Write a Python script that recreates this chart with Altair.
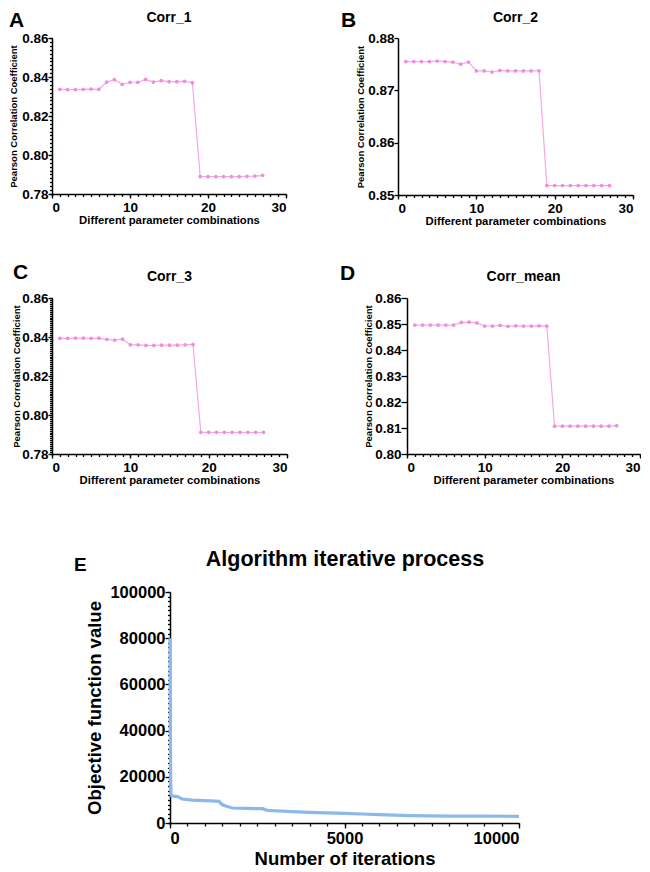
import altair as alt
import pandas as pd

# ---------------- data ----------------
combos = list(range(1, 28))
corr_1 = [0.8337, 0.8335, 0.8335, 0.8337, 0.8338, 0.8337, 0.8374, 0.8386, 0.8362, 0.8373,
          0.8373, 0.8388, 0.8374, 0.8381, 0.8376, 0.8376, 0.8378, 0.8371,
          0.7889, 0.7889, 0.7889, 0.7889, 0.7889, 0.7889, 0.7891, 0.7892, 0.7896]
corr_2 = [0.8755, 0.8755, 0.8755, 0.8755, 0.8756, 0.8755, 0.8754, 0.8750, 0.8754, 0.8737,
          0.8737, 0.8735, 0.8738, 0.8737, 0.8737, 0.8737, 0.8737, 0.8737,
          0.8518, 0.8518, 0.8518, 0.8518, 0.8518, 0.8518, 0.8518, 0.8518, 0.8518]
corr_3 = [0.8393, 0.8393, 0.8394, 0.8394, 0.8393, 0.8394, 0.8388, 0.8384, 0.8389, 0.8360,
          0.8360, 0.8357, 0.8357, 0.8358, 0.8358, 0.8358, 0.8360, 0.8362,
          0.7911, 0.7911, 0.7911, 0.7911, 0.7911, 0.7911, 0.7911, 0.7911, 0.7911]
corr_mean = [0.8496, 0.8496, 0.8496, 0.8496, 0.8496, 0.8496, 0.8506, 0.8507, 0.8504, 0.8492,
             0.8492, 0.8495, 0.8491, 0.8493, 0.8492, 0.8492, 0.8493, 0.8492,
             0.8107, 0.8107, 0.8107, 0.8107, 0.8107, 0.8107, 0.8107, 0.8107, 0.8109]

iters = [0, 10, 20, 30, 50, 210, 350, 640, 1000, 1300, 1400, 1500, 1640, 1790, 2200, 2650,
         2790, 3000, 3500, 4000, 4500, 5030, 5500, 6000, 6850, 8000, 9000, 10000]
objective = [80000, 40000, 18000, 12500, 11800, 11400, 10400, 9900, 9700, 9500, 9400, 7900,
             7100, 6500, 6300, 6200, 5500, 5300, 4900, 4600, 4400, 4200, 3900, 3600, 3200,
             3000, 2950, 2900]

FONT = "Liberation Sans"
PINK_LINE = "#F5A8E4"
PINK_PT = "#F08EDC"
BLUE = "#8DB8EE"


def frange(a, b, step):
    n = int(round((b - a) / step))
    return [round(a + i * step, 6) for i in range(n + 1)]


def txt(s, size, x, y, align="left"):
    return alt.Chart(pd.DataFrame({"t": [s]})).mark_text(
        font=FONT, fontWeight="bold", fontSize=size, align=align, baseline="alphabetic",
        color="black").encode(x=alt.value(x), y=alt.value(y), text="t:N")


def corr_panel(vals, title, letter, ydom, ystep, yminor, w, h, letter_x, letter_y,
               title_y, ytitle_pad, ytick):
    df = pd.DataFrame({"x": combos, "y": vals})
    base = alt.Chart(df)
    xscale = alt.Scale(domain=[0, 30], nice=False, zero=False)
    yscale = alt.Scale(domain=ydom, nice=False, zero=False)
    major_x = alt.Axis(values=[0, 10, 20, 30], format="d", title="Different parameter combinations",
                       orient="bottom", grid=False, tickSize=4, labelPadding=2, titlePadding=1,
                       labelFontSize=13.5, titleFontSize=11.3)
    major_y = alt.Axis(values=frange(ydom[0], ydom[1], ystep), format=".2f",
                       title="Pearson Correlation Coefficient", orient="left", grid=False,
                       tickSize=ytick, labelPadding=0, titlePadding=ytitle_pad,
                       labelFontSize=13.5, titleFontSize=9.5)
    line = base.mark_line(color=PINK_LINE, strokeWidth=1.2).encode(
        x=alt.X("x:Q", scale=xscale, axis=major_x),
        y=alt.Y("y:Q", scale=yscale, axis=major_y),
    )
    pts = base.mark_point(filled=True, color=PINK_PT, size=14, opacity=1).encode(
        x=alt.X("x:Q", scale=xscale, axis=None),
        y=alt.Y("y:Q", scale=yscale, axis=None),
    )
    minor_x = alt.Axis(values=list(range(0, 31)), labels=False, title=None, orient="bottom",
                       grid=False, tickSize=2.5, domain=False)
    if yminor:
        minor_y = alt.Axis(values=frange(ydom[0], ydom[1], yminor), labels=False, title=None,
                           orient="left", grid=False, tickSize=2.5, domain=False)
    else:
        minor_y = None
    minor = base.mark_point(opacity=0).encode(
        x=alt.X("x:Q", scale=xscale, axis=minor_x),
        y=alt.Y("y:Q", scale=yscale, axis=minor_y),
    )
    lab = txt(letter, 21, letter_x, letter_y)
    ttl = txt(title, 14, w / 2, title_y, align="center")
    return alt.layer(line, pts, minor, lab, ttl).resolve_axis(
        x="independent", y="independent"
    ).properties(width=w, height=h)


A = corr_panel(corr_1, "Corr_1", "A", [0.78, 0.86], 0.02, 0.002, 234, 156, -43, -11, -16, 3, 4)
B = corr_panel(corr_2, "Corr_2", "B", [0.85, 0.88], 0.01, None, 235, 157, -57, -11, -16, 2, 4)
C = corr_panel(corr_3, "Corr_3", "C", [0.78, 0.86], 0.02, 0.001, 235, 156, -39, -19, -17, 0, 4)
D = corr_panel(corr_mean, "Corr_mean", "D", [0.80, 0.86], 0.01, None, 233, 156, -67, -18, -17, 1, 6)

# ---------------- panel E ----------------
dfe = pd.DataFrame({"it": iters, "val": objective})
be = alt.Chart(dfe)
xs = alt.Scale(domain=[0, 10000], nice=False)
ys = alt.Scale(domain=[0, 100000], nice=False)
e_line = be.mark_line(color=BLUE, strokeWidth=3.2).encode(
    x=alt.X("it:Q", scale=xs, axis=alt.Axis(values=[0, 5000, 10000], format="d",
            title="Number of iterations", orient="bottom", grid=False, tickSize=5,
            labelPadding=2, titlePadding=3, labelFontSize=16.5, titleFontSize=18.5)),
    y=alt.Y("val:Q", scale=ys, axis=alt.Axis(values=frange(0, 100000, 20000), format="d",
            title="Objective function value", orient="left", grid=False, tickSize=5,
            labelPadding=0, titlePadding=5, labelFontSize=16.5, titleFontSize=18.5)),
)
e_minor = be.mark_point(opacity=0).encode(
    x=alt.X("it:Q", scale=xs, axis=alt.Axis(values=frange(0, 10000, 500), labels=False,
            title=None, orient="bottom", grid=False, tickSize=3, domain=False)),
    y=alt.Y("val:Q", scale=ys, axis=alt.Axis(values=frange(0, 100000, 2000), labels=False,
            title=None, orient="left", grid=False, tickSize=2.5, domain=False)),
)
E = alt.layer(
    e_line, e_minor, txt("E", 19, -96, -21),
    txt("Algorithm iterative process", 21.5, 175, -26, align="center"),
).resolve_axis(x="independent", y="independent").properties(width=349, height=231)

spacer = alt.Chart(pd.DataFrame({"a": [0]})).mark_point(opacity=0, size=0).properties(
    width=22, height=10)

row1 = alt.hconcat(A, B, spacing=54)
row2 = alt.hconcat(C, D, spacing=52)
row3 = alt.hconcat(spacer, E, spacing=0)
top = alt.concat(row1, row2, columns=1, spacing=35, align="none", bounds="full")
chart = alt.concat(top, row3, columns=1, spacing=63, align="none", bounds="full").properties(
    padding={"top": 2, "left": 0, "right": 0, "bottom": 0}
).configure_view(stroke=None).configure_axis(
    labelFont=FONT, titleFont=FONT, labelFontWeight="bold", titleFontWeight="bold",
    labelColor="black", titleColor="black", domainColor="black", tickColor="black",
    domainWidth=1.5, tickWidth=1.3,
)

chart.save("out.html", embed_options={"renderer": "svg", "actions": False})
